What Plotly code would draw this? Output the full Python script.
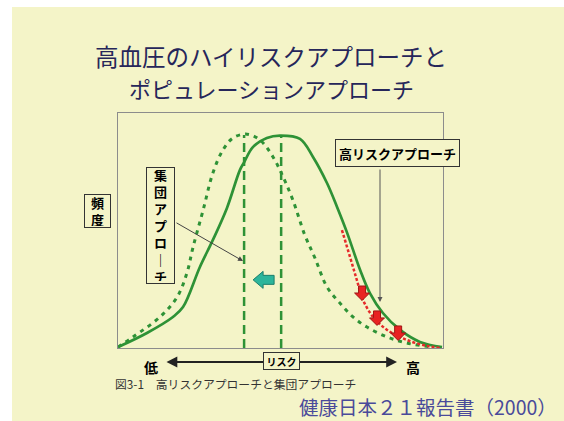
import plotly.graph_objects as go

# ---- data (x: risk 0-100, y: frequency 0-100) ----
solid_x = [0, 8.9, 16.9, 20, 25.2, 29.2, 33.5, 37.5, 38.8, 41.5, 45.8, 49.8, 56, 60, 64.3, 67.4, 70.5, 74.5, 77.5, 81.5, 86.8, 92.9, 99.7]
solid_y = [0.4, 6.4, 13.2, 17.4, 34.5, 46, 59.5, 75.7, 79, 85.5, 89.4, 90.4, 89, 81.3, 70.2, 60, 49, 33.2, 23.4, 14.9, 7.7, 2.6, 0.4]

shift_x = [0, 4.6, 12.9, 18.2, 21.2, 23.1, 26.2, 29.2, 32.3, 35.4, 39.7, 43.7, 47.7, 50.8, 53.8, 57.5, 60.6, 64.3, 68.3, 72.3, 76.6, 82.8, 88.9, 96.9]
shift_y = [0.4, 4.7, 13.2, 21.7, 31.9, 43, 58.7, 74.5, 84.3, 89.4, 91, 88.5, 81.3, 72.8, 63, 48, 38.3, 26, 19.1, 13.2, 8.9, 4.7, 2.1, 0.4]

highrisk_x = [68.9, 71.4, 73.5, 75.4, 78.5, 82.8, 88.9, 95.1, 99]
highrisk_y = [50.2, 38.7, 28.9, 20.4, 13.2, 7.7, 3.4, 0.9, 0]

mean_lines_x = [38.8, 50.2]
mean_lines_top = [90.6, 90.6]

red_arrow_x = [75.1, 79.7, 86.2]
red_arrow_y = [23.4, 12.8, 6.4]
teal_arrow_x = [44.8]
teal_arrow_y = [29.0]

title_lines = ["高血圧のハイリスクアプローチと", "ポピュレーションアプローチ"]
group_label = "集団アプローチ"
highrisk_label = "高リスクアプローチ"
ylabel = "頻度"
axis_label = "リスク"
low_label, high_label = "低", "高"
caption = "図3-1　高リスクアプローチと集団アプローチ"
source = "健康日本２１報告書（2000）"

# ---- layout constants ----
W, H = 564, 421
PX_L, PX_R, PX_T, PX_B = 118, 443, 113, 348
XS = (PX_R - PX_L) / 100.0   # px per x unit
YS = (PX_B - PX_T) / 100.0   # px per y unit
BG = "#F4F4C8"
GREEN = "#2E9236"
FONT = "Noto Sans CJK JP"

fig = go.Figure()

fig.add_trace(go.Scatter(x=shift_x, y=shift_y, mode="lines", line_shape="spline",
                         line=dict(color=GREEN, width=3, dash="4px,5px"), hoverinfo="skip"))
fig.add_trace(go.Scatter(x=solid_x, y=solid_y, mode="lines", line_shape="spline",
                         line=dict(color=GREEN, width=2.7), hoverinfo="skip"))
fig.add_trace(go.Scatter(x=highrisk_x, y=highrisk_y, mode="lines", line_shape="spline",
                         line=dict(color="#E52A2A", width=2.5, dash="3px,2px"), hoverinfo="skip"))
for mx, mt in zip(mean_lines_x, mean_lines_top):
    fig.add_trace(go.Scatter(x=[mx, mx], y=[0, mt], mode="lines",
                             line=dict(color=GREEN, width=2.5, dash="9px,5px"), hoverinfo="skip"))

shapes = [dict(type="rect", xref="paper", yref="paper", x0=12 / W, x1=1, y0=0, y1=1 - 7 / H,
               fillcolor=BG, line=dict(width=0), layer="below")]


def arrow_path(cx, cy, pts):
    s = "M " + " L ".join(f"{cx + dx / XS:.3f},{cy + dy / YS:.3f}" for dx, dy in pts)
    return s + " Z"


down_pts = [(-3.5, 7), (3.5, 7), (3.5, 0), (7.5, 0), (0, -7.5), (-7.5, 0), (-3.5, 0)]
for cx, cy in zip(red_arrow_x, red_arrow_y):
    shapes.append(dict(type="path", xref="x", yref="y", path=arrow_path(cx, cy, down_pts),
                       fillcolor="#E82222", line=dict(color="#A01515", width=1)))
left_pts = [(-10.5, 0), (-0.5, 8.5), (-0.5, 4.5), (10.5, 4.5), (10.5, -4.5), (-0.5, -4.5), (-0.5, -8.5)]
for cx, cy in zip(teal_arrow_x, teal_arrow_y):
    shapes.append(dict(type="path", xref="x", yref="y", path=arrow_path(cx, cy, left_pts),
                       fillcolor="#2DB59B", line=dict(color="#1B7F6C", width=1)))


def ux(px):
    return (px - PX_L) / XS


def uy(py):
    return (PX_B - py) / YS


def dx(px):
    return (px - PX_L) / (PX_R - PX_L)


def dy(py):
    return (PX_B - py) / (PX_B - PX_T)


C = dict(xanchor="center", yanchor="middle")
annotations = []
# title
annotations.append(dict(text=title_lines[0], xref="paper", yref="paper", x=271 / W, y=1 - 56 / H,
                        showarrow=False, font=dict(family=FONT, size=23.5, color="#26265A"), **C))
annotations.append(dict(text=title_lines[1], xref="paper", yref="paper", x=271 / W, y=1 - 88 / H,
                        showarrow=False, font=dict(family=FONT, size=22, color="#26265A"), **C))
# group approach box
annotations.append(dict(text="<b>" + "<br>".join(c if c != "ー" else "｜" for c in group_label) + "</b>",
                        x=ux(160.5), y=uy(225.5), xref="x", yref="y", showarrow=False,
                        font=dict(family=FONT, size=13, color="black"),
                        width=23, height=111,
                        bgcolor=BG, bordercolor="#333", borderwidth=1, borderpad=2, **C))
annotations.append(dict(text="", x=ux(243), y=uy(261), ax=ux(175), ay=uy(222),
                        xref="x", yref="y", axref="x", ayref="y", showarrow=True,
                        arrowhead=2, arrowsize=1, arrowwidth=1, arrowcolor="#444"))
# high risk box
annotations.append(dict(text="<b>" + highrisk_label + "</b>", x=ux(397.5), y=uy(153), xref="x", yref="y",
                        showarrow=False, font=dict(family=FONT, size=13, color="black"),
                        width=121, height=24,
                        bgcolor=BG, bordercolor="#333", borderwidth=1, borderpad=1, **C))
annotations.append(dict(text="", x=ux(380), y=uy(302), ax=ux(380), ay=uy(168),
                        xref="x", yref="y", axref="x", ayref="y", showarrow=True,
                        arrowhead=2, arrowsize=1, arrowwidth=1, arrowcolor="#555"))
# y label
annotations.append(dict(text="<b>" + "<br>".join(ylabel) + "</b>", x=dx(97.5), y=dy(211),
                        xref="x domain", yref="y domain", showarrow=False,
                        font=dict(family=FONT, size=13, color="black"),
                        width=23, height=30,
                        bgcolor=BG, bordercolor="#333", borderwidth=1, borderpad=1, **C))
# risk axis arrow
annotations.append(dict(text="", x=dx(397), y=dy(362), ax=dx(165), ay=dy(362),
                        xref="x domain", yref="y domain", axref="x domain", ayref="y domain",
                        showarrow=True, arrowhead=2, arrowside="end+start", arrowsize=1.2,
                        arrowwidth=1.8, arrowcolor="#222"))
annotations.append(dict(text="<b>" + axis_label + "</b>", x=dx(281.5), y=dy(360.5),
                        xref="x domain", yref="y domain", showarrow=False,
                        font=dict(family=FONT, size=10, color="black"),
                        width=33, height=14,
                        bgcolor=BG, bordercolor="#333", borderwidth=1, borderpad=1, **C))
annotations.append(dict(text="<b>" + low_label + "</b>", x=dx(151), y=dy(367),
                        xref="x domain", yref="y domain", showarrow=False,
                        font=dict(family=FONT, size=14, color="black"), **C))
annotations.append(dict(text="<b>" + high_label + "</b>", x=dx(413), y=dy(367),
                        xref="x domain", yref="y domain", showarrow=False,
                        font=dict(family=FONT, size=14, color="black"), **C))
# caption & source
annotations.append(dict(text=caption, xref="paper", yref="paper", x=113 / W, y=1 - 383 / H,
                        xanchor="left", yanchor="middle", showarrow=False,
                        font=dict(family=FONT, size=11.8, color="#333")))
annotations.append(dict(text=source, xref="paper", yref="paper", x=559 / W, y=1 - 406.5 / H,
                        xanchor="right", yanchor="middle", showarrow=False,
                        font=dict(family=FONT, size=19.5, color="#4A4A9A")))

fig.update_layout(
    width=W, height=H, autosize=False,
    margin=dict(l=0, r=0, t=0, b=0),
    paper_bgcolor="white", plot_bgcolor="rgba(0,0,0,0)",
    showlegend=False,
    shapes=shapes, annotations=annotations,
    xaxis=dict(domain=[PX_L / W, PX_R / W], range=[0, 100], showgrid=False, zeroline=False,
               showticklabels=False, ticks="", showline=True, mirror=True,
               linecolor="#8C8C8C", linewidth=1),
    yaxis=dict(domain=[1 - PX_B / H, 1 - PX_T / H], range=[0, 100], showgrid=False, zeroline=False,
               showticklabels=False, ticks="", showline=True, mirror=True,
               linecolor="#8C8C8C", linewidth=1),
)

fig.write_html("out.html", config={"displayModeBar": False},
               post_script="document.body.style.margin='0';document.body.style.overflow='hidden';"
                           "document.documentElement.style.overflow='hidden';")
